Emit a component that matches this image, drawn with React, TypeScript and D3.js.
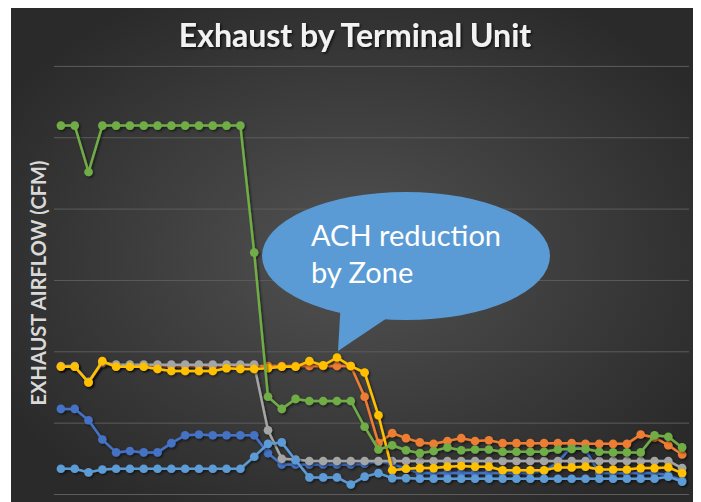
import React, { useRef, useEffect } from 'react';
import * as d3 from 'd3';

// 46 readings per terminal unit, one per sample
const samples = d3.range(46).map(i => `T${i + 1}`);

const unitBlue = [120, 120, 104, 77, 59, 61, 59, 59, 72, 83, 84, 83, 83, 83, 83, 58, 42, 42, 42, 42, 42, 42, 43, 46, 43, 36, 30, 30, 30, 30, 30, 30, 30, 30, 30, 33, 45, 68, 63, 30, 30, 30, 30, 30, 27, 20];
const unitOrange = [179, 179, 157, 184, 180, 180, 180, 180, 180, 180, 180, 180, 180, 180, 180, 180, 180, 180, 180, 180, 180, 180, 137, 72, 86, 79, 73, 71, 75, 79, 75, 76, 72, 72, 72, 72, 72, 72, 71, 71, 71, 71, 84, 80, 69, 56];
const unitGray = [180, 180, 158, 185, 182, 182, 182, 182, 182, 182, 182, 182, 182, 182, 182, 90, 50, 49, 47, 47, 47, 47, 47, 47, 47, 47, 47, 47, 47, 47, 47, 47, 47, 47, 47, 47, 47, 47, 47, 47, 47, 47, 47, 47, 47, 37];
const unitYellow = [179, 179, 157, 187, 179, 179, 179, 176, 173, 173, 173, 173, 177, 176, 176, 177, 179, 179, 187, 181, 192, 180, 171, 111, 34, 36, 37, 37, 39, 40, 39, 39, 34, 34, 34, 34, 38, 38, 39, 35, 35, 35, 37, 37, 38, 30];
const unitLightBlue = [36, 36, 31, 35, 36, 36, 36, 36, 36, 36, 36, 36, 36, 36, 53, 71, 73, 48, 24, 24, 24, 14, 25, 30, 23, 23, 22, 22, 22, 22, 22, 22, 22, 22, 22, 22, 22, 22, 22, 22, 22, 22, 22, 22, 25, 18];
const unitGreen = [517, 517, 452, 517, 517, 517, 517, 517, 517, 517, 517, 517, 517, 517, 339, 137, 120, 134, 131, 131, 131, 131, 95, 63, 69, 62, 58, 61, 66, 62, 63, 63, 60, 60, 60, 60, 63, 64, 64, 60, 59, 59, 59, 83, 81, 66];

const yTicks = [0, 100, 200, 300, 400, 500, 600];

const series = [
  { name: 'Unit 1', values: unitBlue, color: '#4472c4' },
  { name: 'Unit 2', values: unitOrange, color: '#ed7d31' },
  { name: 'Unit 3', values: unitGray, color: '#a5a5a5' },
  { name: 'Unit 4', values: unitYellow, color: '#ffc000' },
  { name: 'Unit 5', values: unitLightBlue, color: '#5b9bd5' },
  { name: 'Unit 6', values: unitGreen, color: '#70ad47' },
];

const width = 701;
const height = 502;
const plot = { left: 54, right: 689, top: 66.4, bottom: 494.5 };
const font = 'Lato, "Open Sans", sans-serif';

export default function App() {
  const svgRef = useRef<SVGSVGElement>(null);

  useEffect(() => {
    if (!svgRef.current) return;
    const svg = d3.select(svgRef.current);
    svg.selectAll('*').remove();

    const defs = svg.append('defs');
    const bg = defs.append('radialGradient')
      .attr('id', 'panel-bg')
      .attr('cx', '50%').attr('cy', '50%').attr('r', '60%');
    bg.append('stop').attr('offset', '0%').attr('stop-color', '#525252');
    bg.append('stop').attr('offset', '100%').attr('stop-color', '#2a2a2a');

    const shadow = defs.append('filter').attr('id', 'line-shadow')
      .attr('x', '-10%').attr('y', '-10%').attr('width', '120%').attr('height', '120%');
    shadow.append('feDropShadow')
      .attr('dx', 1.5).attr('dy', 1.5).attr('stdDeviation', 1.2)
      .attr('flood-color', '#000').attr('flood-opacity', 0.55);

    const titleShadow = defs.append('filter').attr('id', 'title-shadow');
    titleShadow.append('feDropShadow')
      .attr('dx', 1.5).attr('dy', 1.5).attr('stdDeviation', 1)
      .attr('flood-color', '#000').attr('flood-opacity', 0.7);

    // white page, dark slide panel
    svg.append('rect').attr('width', width).attr('height', height).attr('fill', '#ffffff');
    svg.append('rect')
      .attr('x', 11).attr('y', 8)
      .attr('width', 682).attr('height', height - 8)
      .attr('fill', 'url(#panel-bg)');

    const x = d3.scalePoint<string>()
      .domain(samples)
      .range([plot.left, plot.right])
      .padding(0.5);

    const y = d3.scaleLinear()
      .domain([0, 600])
      .range([plot.bottom, plot.top]);

    // gridlines
    svg.append('g')
      .selectAll('line')
      .data(yTicks)
      .enter()
      .append('line')
      .attr('x1', plot.left)
      .attr('x2', plot.right)
      .attr('y1', d => y(d))
      .attr('y2', d => y(d))
      .attr('stroke', '#5c5c5c')
      .attr('stroke-width', 1);

    // title
    svg.append('text')
      .attr('x', 355)
      .attr('y', 47)
      .attr('text-anchor', 'middle')
      .attr('font-family', font)
      .attr('font-weight', 'bold')
      .attr('font-size', '32px')
      .attr('fill', '#f2f2f2')
      .attr('filter', 'url(#title-shadow)')
      .text('Exhaust by Terminal Unit');

    // y axis title
    svg.append('text')
      .attr('transform', 'translate(46, 283) rotate(-90)')
      .attr('text-anchor', 'middle')
      .attr('font-family', font)
      .attr('font-weight', 'bold')
      .attr('font-size', '20px')
      .attr('fill', '#d9d9d9')
      .text('EXHAUST AIRFLOW (CFM)');

    const line = d3.line<number>()
      .x((_, i) => x(samples[i]) || 0)
      .y(d => y(d));

    series.forEach(s => {
      const g = svg.append('g').attr('filter', 'url(#line-shadow)');
      g.append('path')
        .datum(s.values)
        .attr('fill', 'none')
        .attr('stroke', s.color)
        .attr('stroke-width', 2.5)
        .attr('stroke-linejoin', 'round')
        .attr('d', line);
      g.selectAll('circle')
        .data(s.values)
        .enter()
        .append('circle')
        .attr('cx', (_, i) => x(samples[i]) || 0)
        .attr('cy', d => y(d))
        .attr('r', 4.3)
        .attr('fill', s.color);
    });

    // callout bubble
    const bubble = svg.append('g');
    bubble.append('path')
      .attr('d', 'M341,300 L338,351 L396,312 Z')
      .attr('fill', '#5b9bd5');
    bubble.append('ellipse')
      .attr('cx', 406).attr('cy', 256)
      .attr('rx', 144).attr('ry', 64)
      .attr('fill', '#5b9bd5');
    const callText = bubble.append('text')
      .attr('font-family', font)
      .attr('font-size', '29px')
      .attr('fill', '#ffffff');
    callText.append('tspan').attr('x', 311).attr('y', 246).text('ACH reduction');
    callText.append('tspan').attr('x', 311).attr('y', 283).text('by Zone');
  }, []);

  return (
    <div style={{ position: 'absolute', left: 0, top: 0 }}>
      <svg ref={svgRef} width={width} height={height} style={{ display: 'block' }} />
    </div>
  );
}
